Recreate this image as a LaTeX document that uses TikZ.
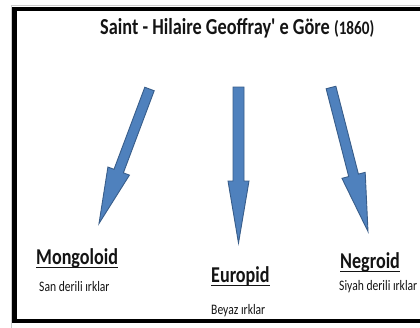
\documentclass[tikz,border=0pt]{standalone}
\usepackage{fontspec}
\setmainfont{Carlito}[Ligatures=TeXOff]
\usetikzlibrary{calc}
\definecolor{arrowfill}{HTML}{4F81BD}
\definecolor{arrowline}{HTML}{385D8A}
\newcommand\blockarrow[5]{%
  \coordinate (bah) at ($(#2)!#5!(#1)$);
  \filldraw[bluearrow] ($(#1)!#3!90:(#2)$) -- ($(bah)!#3!90:(#2)$) -- ($(bah)!#4!90:(#2)$) -- (#2)
    -- ($(bah)!#4!-90:(#2)$) -- ($(bah)!#3!-90:(#2)$) -- ($(#1)!#3!-90:(#2)$) -- cycle;}
\begin{document}
\begin{tikzpicture}[x=1pt,y=-1pt,
  bluearrow/.style={fill=arrowfill,draw=arrowline,line width=0.9pt,line join=miter},
  txt/.style={inner sep=0pt,anchor=base west,text=black!92},
  heading/.style={txt,font=\bfseries\fontsize{18.1pt}{22pt}\selectfont},
  sub/.style={txt,font=\fontsize{11.6pt}{14pt}\selectfont},
  ul/.style={line width=1.7pt,black!92}]
\useasboundingbox (0,0) rectangle (420,327);
\fill[white] (0,0) rectangle (420,327);
\begin{scope}
\clip (0,0) rectangle (420,327);
\draw[black!20,line width=1pt] (11,330) -- (11,5.5) -- (430,5.5);
\draw[line width=4.5pt] (14.5,8.8) rectangle (440,321);
\end{scope}
% title
\node[heading,font=\bfseries\fontsize{18.3pt}{22pt}\selectfont] (title) at (100,34)
  {\scalebox{1}[1.25]{Saint - Hilaire Geoffray' e Göre {\fontsize{15.2pt}{18pt}\selectfont (1860)}}};
% arrows
\coordinate (lt) at (149.5,89);  \coordinate (lp) at (99,223.5);
\coordinate (mt) at (238.5,87);  \coordinate (mp) at (238.5,243);
\coordinate (rt) at (331,87.5);  \coordinate (rp) at (368,231.5);
\blockarrow{lt}{lp}{5pt}{11.5pt}{56pt}
\blockarrow{mt}{mp}{5.5pt}{10.5pt}{62pt}
\blockarrow{rt}{rp}{5pt}{12pt}{58pt}
% labels
\node[heading] (mongo) at (36,264) {\scalebox{1}[1.25]{Mongoloid}};
\node[sub] (mongosub) at (39,291) {\scalebox{1}[1.25]{San derili ırklar}};
\node[heading] (euro) at (211,282) {\scalebox{1}[1.25]{Europid}};
\node[sub] (eurosub) at (211,314) {\scalebox{1}[1.25]{Beyaz ırklar}};
\node[heading] (negro) at (340,268) {\scalebox{1}[1.25]{Negroid}};
\node[sub] (negrosub) at (339,290) {\scalebox{1}[1.25]{Siyah derili ırklar}};
% underlines
\foreach \n in {mongo,euro,negro}
  \draw[ul] ([yshift=-3.6pt]\n.base west) -- ([yshift=-3.6pt]\n.base east);
\end{tikzpicture}
\end{document}
